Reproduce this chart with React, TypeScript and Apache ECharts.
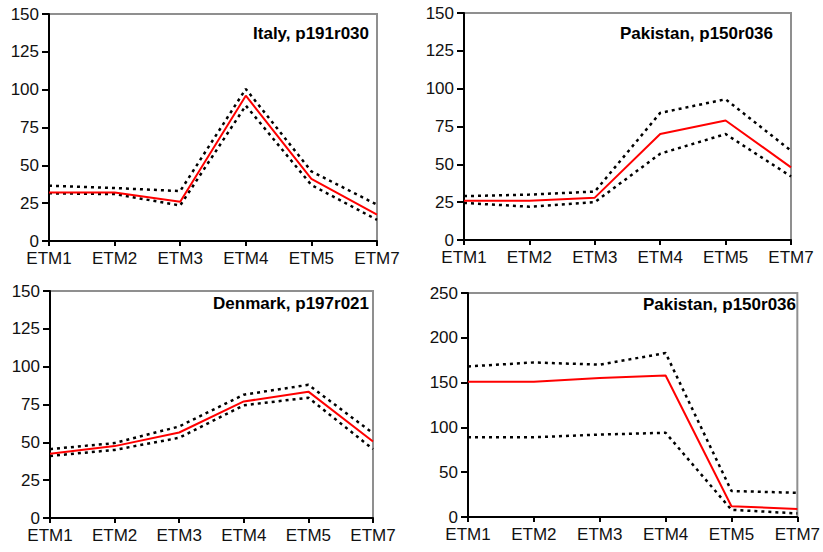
import React, { useEffect, useRef } from "react";
import * as echarts from "echarts";

const categories = ["ETM1", "ETM2", "ETM3", "ETM4", "ETM5", "ETM7"];

const italyMean = [32, 32, 26, 96, 41, 17.5];
const italyUpper = [36.5, 35, 33, 100.5, 46, 24];
const italyLower = [31.5, 31, 23.5, 89.5, 37, 14];

const pakistanAMean = [26, 26, 28, 70, 79, 48];
const pakistanAUpper = [29, 30, 32, 84, 93, 59];
const pakistanALower = [24.5, 22, 25, 57, 70, 42];

const denmarkMean = [42.5, 47.5, 56.5, 77, 83.5, 50.5];
const denmarkUpper = [45.5, 49.5, 60.5, 81.5, 88, 56];
const denmarkLower = [41, 45, 53, 74.5, 79.5, 45.5];

const pakistanBMean = [151, 151, 155, 158, 12, 9];
const pakistanBUpper = [168, 172.5, 170, 183, 29, 27];
const pakistanBLower = [89, 89, 92, 94, 8, 4];

const panelTitles = ["Italy, p191r030", "Pakistan, p150r036", "Denmark, p197r021", "Pakistan, p150r036"];
const yMaxes = [150, 150, 150, 250];
const yIntervals = [25, 25, 25, 50];

const panels = [
  { mean: italyMean, upper: italyUpper, lower: italyLower },
  { mean: pakistanAMean, upper: pakistanAUpper, lower: pakistanALower },
  { mean: denmarkMean, upper: denmarkUpper, lower: denmarkLower },
  { mean: pakistanBMean, upper: pakistanBUpper, lower: pakistanBLower },
];

const gridBoxes = [
  { left: 49, top: 14, width: 328, height: 227 },
  { left: 464, top: 13, width: 327, height: 227 },
  { left: 50, top: 291, width: 323, height: 227 },
  { left: 468, top: 293, width: 334, height: 224 },
];

const titleAnchors = [
  { x: 369, y: 33 },
  { x: 773, y: 33 },
  { x: 369, y: 303 },
  { x: 796, y: 304 },
];

const FONT = "'Liberation Sans', Arial, sans-serif";

export default function App() {
  const ref = useRef<HTMLDivElement>(null);
  useEffect(() => {
    if (!ref.current) return;
    const chart = echarts.init(ref.current, undefined, { renderer: "svg" });
    const grid = gridBoxes.map((b) => ({
      ...b,
      show: true,
      borderColor: "#8f8f8f",
      borderWidth: 2,
      backgroundColor: "transparent",
    }));
    const xAxis = gridBoxes.map((_, i) => ({
      type: "category",
      gridIndex: i,
      data: categories,
      boundaryGap: false,
      axisLine: { lineStyle: { color: "#000", width: 2 } },
      axisTick: { show: true, length: 5, lineStyle: { color: "#000", width: 2 } },
      axisLabel: { color: "#111", fontSize: 17, fontFamily: FONT, margin: 9 },
      splitLine: { show: false },
    }));
    const yAxis = gridBoxes.map((_, i) => ({
      type: "value",
      gridIndex: i,
      min: 0,
      max: yMaxes[i],
      interval: yIntervals[i],
      axisLine: { show: true, lineStyle: { color: "#000", width: 2 } },
      axisTick: { show: true, length: 7, lineStyle: { color: "#000", width: 2 } },
      axisLabel: { color: "#111", fontSize: 17, fontFamily: FONT, margin: 10 },
      splitLine: { show: false },
    }));
    const series: any[] = [];
    panels.forEach((p, i) => {
      [p.upper, p.lower].forEach((d) => {
        series.push({
          type: "line",
          xAxisIndex: i,
          yAxisIndex: i,
          data: d,
          symbol: "none",
          lineStyle: { color: "#000", width: 2.5, type: [3, 4] },
          z: 2,
        });
      });
      series.push({
        type: "line",
        xAxisIndex: i,
        yAxisIndex: i,
        data: p.mean,
        symbol: "none",
        lineStyle: { color: "#ff0000", width: 2 },
        z: 3,
      });
    });
    const graphic = titleAnchors.map((a, i) => ({
      type: "text",
      x: a.x,
      y: a.y,
      style: {
        text: panelTitles[i],
        fill: "#000",
        font: `bold 17px ${FONT}`,
        textAlign: "right",
        textVerticalAlign: "middle",
      },
      z: 10,
    }));
    chart.setOption({
      animation: false,
      backgroundColor: "#fff",
      grid,
      xAxis,
      yAxis,
      series,
      graphic,
    } as any);
    return () => chart.dispose();
  }, []);
  return (
    <div
      ref={ref}
      style={{ position: "absolute", left: 0, top: 0, width: 823, height: 552 }}
    />
  );
}
